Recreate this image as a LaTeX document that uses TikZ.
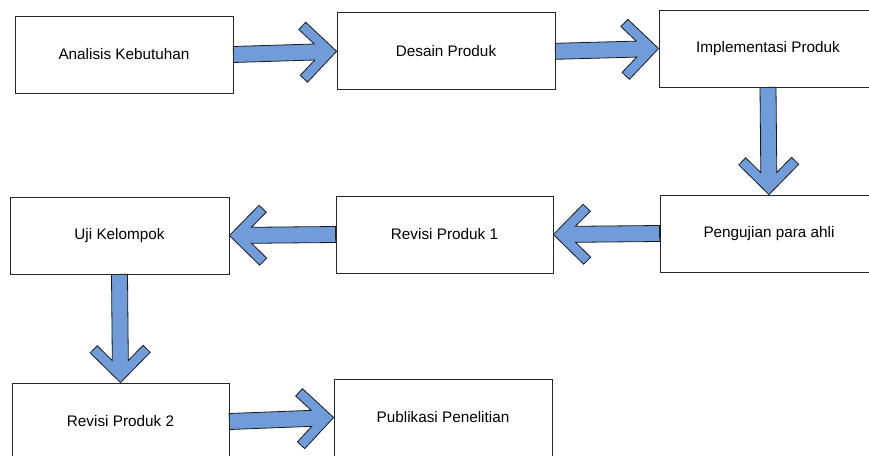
\documentclass[tikz,border=0pt]{standalone}
\usepackage{fontspec}
\setmainfont{Liberation Sans}
\usetikzlibrary{calc}
\definecolor{arrowblue}{RGB}{112,156,218}
\pgfdeclarelayer{bg}
\pgfsetlayers{bg,main}
\tikzset{
  box/.style={draw=black!85, line width=0.8pt, minimum width=218pt, minimum height=77pt,
    inner sep=0pt, font=\fontsize{15.3}{18}\selectfont},
  arrowshape/.style={draw=black!90, line width=0.8pt, fill=arrowblue, line join=miter}
}
\newcommand\blockarrow[2]{%
  \coordinate (bS) at (#1);
  \coordinate (bT) at (#2);
  \coordinate (bW) at ($(bT)!22.1pt!(bS)$);
  \coordinate (bL) at ($(bT)!30pt!(bS)$);
  \coordinate (bC) at ($(bT)!37.07pt!(bS)$);
  \draw[arrowshape] ($(bS)!8pt!90:(bT)$) -- ($(bW)!8pt!90:(bT)$)
    -- ($(bC)!22.93pt!90:(bT)$) -- ($(bL)!30pt!90:(bT)$) -- (bT)
    -- ($(bL)!30pt!-90:(bT)$) -- ($(bC)!22.93pt!-90:(bT)$)
    -- ($(bW)!8pt!-90:(bT)$) -- ($(bS)!8pt!-90:(bT)$) -- cycle;
}
\begin{document}
\begin{tikzpicture}[x=1pt,y=-1pt]
  \useasboundingbox (0,0) rectangle (869,455);
  \begin{pgfonlayer}{bg}
    \fill[white] (0,0) rectangle (869,455);
  \end{pgfonlayer}
  \clip (0,0) rectangle (869,455);
  \node[box] (b1) at (124,54.5) {Analisis Kebutuhan};
  \node[box] (b2) at (446,51.3) {Desain Produk};
  \node[box] (b3) at (768,48.5) {Implementasi Produk};
  \node[box] (b4) at (769,233.5) {Pengujian para ahli};
  \node[box, minimum width=217pt] (b5) at (444.5,234.5) {Revisi Produk 1};
  \node[box, minimum width=219pt] (b6) at (119.5,235.5) {Uji Kelompok};
  \node[box, minimum width=217pt] (b7) at (120.5,421.5) {Revisi Produk 2};
  \node[box] (b8) at (443,417.5) {Publikasi Penelitian};
  \begin{pgfonlayer}{bg}
    \blockarrow{b1.east}{b2.west}
    \blockarrow{b2.east}{b3.west}
    \blockarrow{b3.south}{b4.north}
    \blockarrow{b4.west}{b5.east}
    \blockarrow{b5.west}{b6.east}
    \blockarrow{b6.south}{b7.north}
    \blockarrow{b7.east}{b8.west}
  \end{pgfonlayer}
\end{tikzpicture}
\end{document}
